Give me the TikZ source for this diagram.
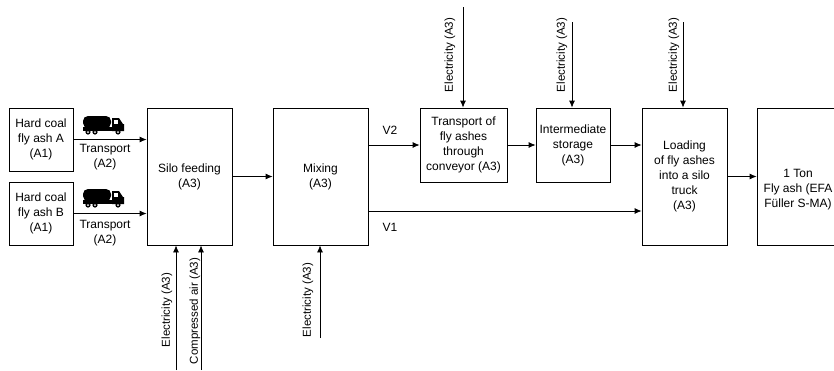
\documentclass[tikz,border=0pt]{standalone}
\usepackage{fontspec}
\setmainfont{Liberation Sans}
\usetikzlibrary{arrows.meta}
\tikzset{
  box/.style={draw=black, line width=0.8pt, fill=white, inner sep=1pt, align=center,
              font=\fontsize{12}{15}\selectfont},
  arr/.style={draw=black, line width=0.8pt, -{Latex[length=7pt,width=6pt]}},
  ln/.style={draw=black, line width=0.8pt},
  lbl/.style={inner sep=0pt, font=\fontsize{12}{15}\selectfont, align=center},
  rlbl/.style={inner sep=0pt, rotate=90, font=\fontsize{11.5}{14}\selectfont},
  truck/.pic={
    \fill[black, rounded corners=5pt] (0,1) rectangle (28,13);
    \fill[black] (29,3) -- (36,3) -- (40,9) -- (41,9) -- (41,16) -- (29,16) -- cycle;
    \fill[white] (31,5) rectangle (35,9);
    \fill[black] (0,12) rectangle (41,16);
    \foreach \wx in {5,12,35} {
      \fill[black] (\wx,17) circle (2.6);
      \fill[white] (\wx,17) circle (1.0);
    }
  }
}
\begin{document}
\begin{tikzpicture}[x=1pt,y=-1pt]
\useasboundingbox (0,0) rectangle (834,370);
\clip (0,0) rectangle (834,370);
\fill[white] (0,0) rectangle (834,370);

% boxes
\node[box, minimum width=64pt, minimum height=63pt] (A) at (41,139.5) {Hard coal\\fly ash A\\(A1)};
\node[box, minimum width=64pt, minimum height=63pt] (B) at (41,213.5) {Hard coal\\fly ash B\\(A1)};
\node[box, minimum width=85pt, minimum height=137pt] (silo) at (189.5,176.5) {Silo feeding\\(A3)};
\node[box, minimum width=95pt, minimum height=137pt] (mix) at (320.5,176.5) {Mixing\\(A3)};
\node[box, minimum width=87pt, minimum height=74pt] (conv) at (463.5,145) {Transport of\\fly ashes\\through\\conveyor (A3)};
\node[box, minimum width=74pt, minimum height=74pt] (stor) at (573,145) {Intermediate\\storage\\(A3)};
\node[box, minimum width=85pt, minimum height=137pt] (load) at (684.5,176.5) {Loading\\of fly ashes\\into a silo\\truck\\(A3)};
\node[box, minimum width=86pt, minimum height=137pt] (ton) at (800,176.5) {};
\node[lbl, anchor=north] (tontxt) at (798,169) {1 Ton\\Fly ash (EFA\\Füller S-MA)};

% trucks
\pic at (83,115) {truck};
\pic at (83,188) {truck};

% transport labels
\node[lbl] (t1) at (105,157) {Transport\\(A2)};
\node[lbl] (t2) at (105,233) {Transport\\(A2)};

% main flow
\draw[arr] (A.east) -- (A.east -| silo.west);
\draw[arr] (B.east) -- (B.east -| silo.west);
\draw[arr] (silo) -- (mix);
\draw[arr] (mix.east |- conv) -- (conv.west);
\coordinate (v1) at (0,211);
\draw[arr] (mix.east |- v1) -- (load.west |- v1);
\node[lbl] (V2) at (390,130) {V2};
\node[lbl] (V1) at (390,227) {V1};
\draw[arr] (conv) -- (stor);
\draw[arr] (stor) -- (stor -| load.west);
\draw[arr] (load) -- (ton);

% top electricity
\coordinate (e1) at (463,7);
\coordinate (e2) at (572,22);
\coordinate (e3) at (683,22);
\draw[arr] (e1) -- (e1 |- conv.north);
\draw[arr] (e2) -- (e2 |- stor.north);
\draw[arr] (e3) -- (e3 |- load.north);
\node[rlbl] (le1) at (450,55) {Electricity (A3)};
\node[rlbl] (le2) at (562,55) {Electricity (A3)};
\node[rlbl] (le3) at (674,55) {Electricity (A3)};

% bottom
\coordinate (b1) at (176,370);
\coordinate (b2) at (201,370);
\coordinate (b3) at (320,338);
\draw[arr] (b1) -- (b1 |- silo.south);
\draw[arr] (b2) -- (b2 |- silo.south);
\draw[arr] (b3) -- (b3 |- mix.south);
\node[rlbl] (lb1) at (167,310) {Electricity (A3)};
\node[rlbl] (lb2) at (195,311) {Compressed air (A3)};
\node[rlbl] (lb3) at (308,300) {Electricity (A3)};
\end{tikzpicture}
\end{document}
